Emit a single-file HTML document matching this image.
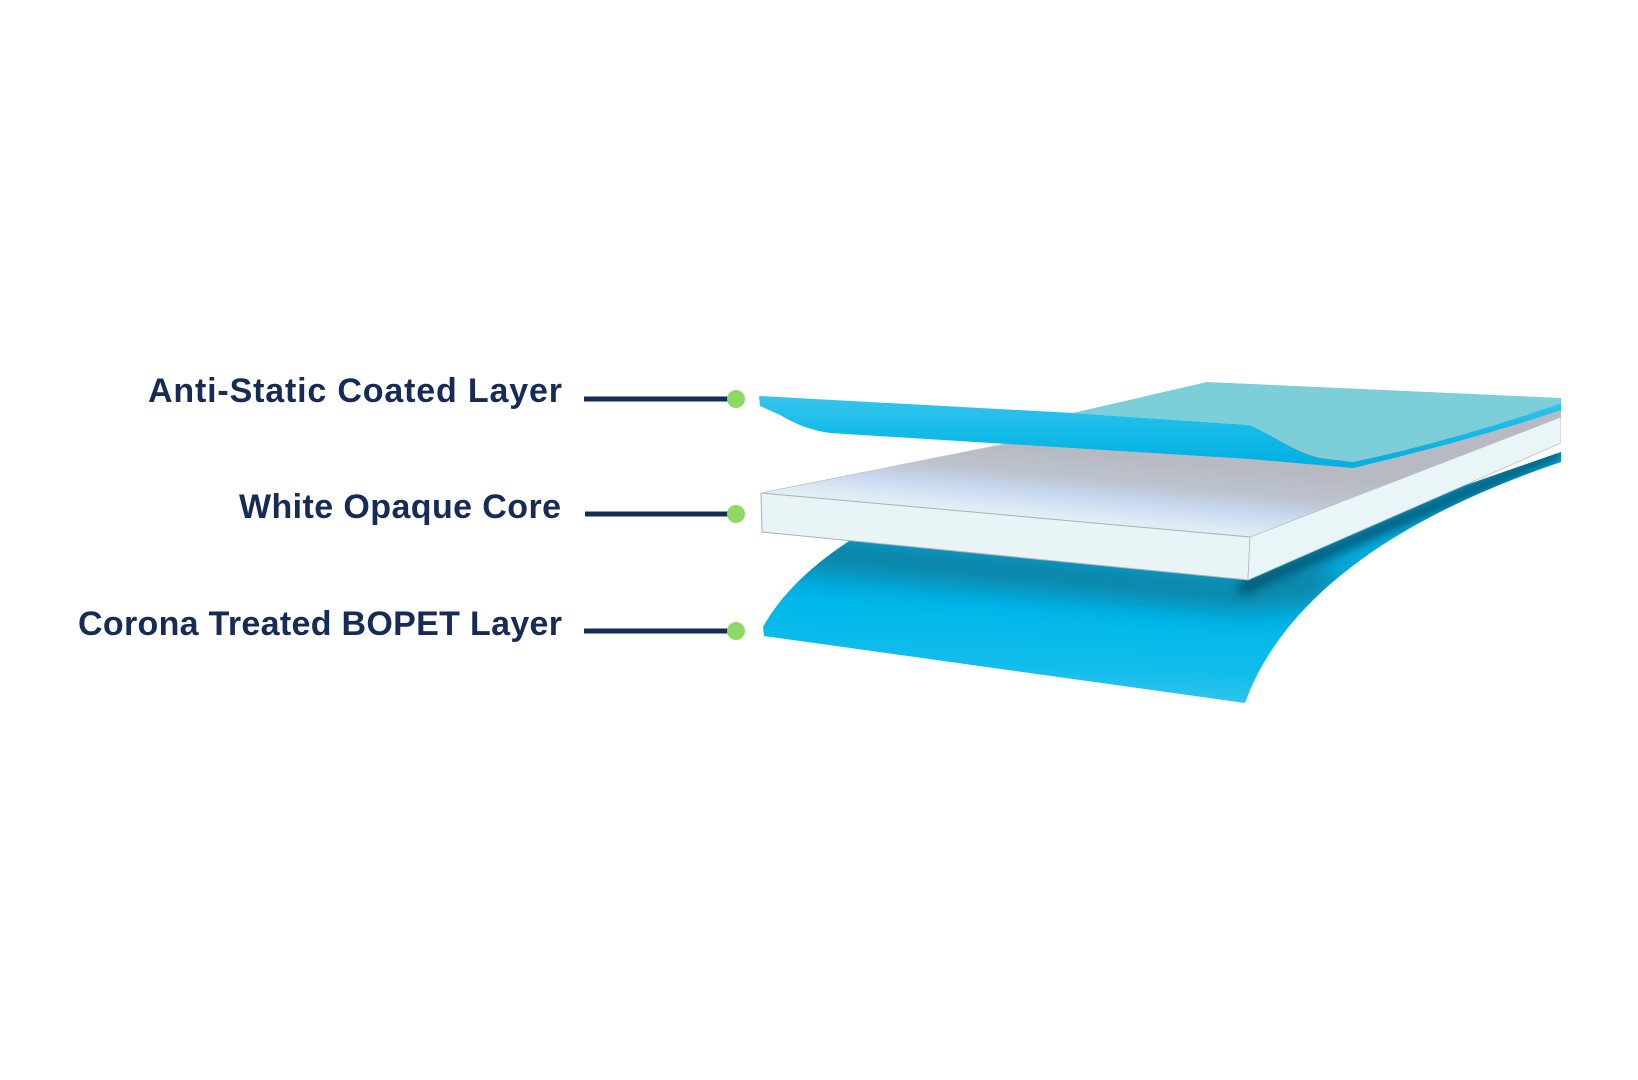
<!DOCTYPE html>
<html>
<head>
<meta charset="utf-8">
<style>
  html,body{margin:0;padding:0;background:#ffffff;}
  body{width:1638px;height:1080px;overflow:hidden;}
  svg{display:block;}
  .lbl{font-family:"Liberation Sans",Arial,sans-serif;font-weight:bold;font-size:34px;fill:#172b57;}
</style>
</head>
<body>
<svg width="1638" height="1080" viewBox="0 0 1638 1080" xmlns="http://www.w3.org/2000/svg">
  <defs>
    <clipPath id="rightclip"><rect x="0" y="0" width="1561" height="1080"/></clipPath>
    <linearGradient id="botg" gradientUnits="userSpaceOnUse" x1="1000" y1="560" x2="995" y2="700">
      <stop offset="0" stop-color="#06a9dc"/>
      <stop offset="0.35" stop-color="#00b7ea"/>
      <stop offset="0.75" stop-color="#12bdeb"/>
      <stop offset="1" stop-color="#34c5ed"/>
    </linearGradient>
    <linearGradient id="topface" gradientUnits="userSpaceOnUse" x1="1010" y1="446" x2="1003" y2="520">
      <stop offset="0" stop-color="#b7bac2"/>
      <stop offset="0.35" stop-color="#bdc3cf"/>
      <stop offset="0.6" stop-color="#c9d9f1"/>
      <stop offset="0.85" stop-color="#ddecf5"/>
      <stop offset="1" stop-color="#e4f2f5"/>
    </linearGradient>
    <linearGradient id="band" gradientUnits="userSpaceOnUse" x1="0" y1="400" x2="0" y2="460">
      <stop offset="0" stop-color="#33c4ec"/>
      <stop offset="0.5" stop-color="#16bbe8"/>
      <stop offset="1" stop-color="#02b2e3"/>
    </linearGradient>
    <filter id="blur" x="-10%" y="-50%" width="120%" height="200%">
      <feGaussianBlur stdDeviation="12"/>
    </filter>
    <filter id="blur2" x="-10%" y="-50%" width="120%" height="200%">
      <feGaussianBlur stdDeviation="5"/>
    </filter>
    <clipPath id="botclip">
      <path d="M857,536 Q790,578 763,627 L764,636 L1245,703 C1275,620 1360,530 1561,462 L1561,452 L1250,560 Z"/>
    </clipPath>
  </defs>

  <!-- Labels -->
  <text class="lbl" x="562" y="402" text-anchor="end" textLength="414" lengthAdjust="spacing">Anti-Static Coated Layer</text>
  <text class="lbl" x="561" y="518" text-anchor="end" textLength="322" lengthAdjust="spacing">White Opaque Core</text>
  <text class="lbl" x="562" y="635" text-anchor="end" textLength="484" lengthAdjust="spacing">Corona Treated BOPET Layer</text>

  <!-- Leader lines -->
  <line x1="584" y1="399" x2="734" y2="399" stroke="#172b57" stroke-width="5"/>
  <line x1="585" y1="514" x2="734" y2="514" stroke="#172b57" stroke-width="5"/>
  <line x1="584" y1="631" x2="734" y2="631" stroke="#172b57" stroke-width="5"/>
  <circle cx="736" cy="399" r="9" fill="#8ed866"/>
  <circle cx="736" cy="514" r="9" fill="#8ed866"/>
  <circle cx="736" cy="631" r="9" fill="#8ed866"/>

  <g clip-path="url(#rightclip)">
    <!-- Bottom sheet -->
    <path d="M857,536 Q790,578 763,627 L764,636 L1245,703 C1275,620 1360,530 1561,462 L1561,452 L1250,560 Z" fill="url(#botg)"/>
    <g clip-path="url(#botclip)">
      <!-- broad shadow under the slab front face -->
      <path d="M762,528 L1250,576 L1330,560 L1330,600 L1250,612 L762,568 Z" fill="#0a7f9f" opacity="0.85" filter="url(#blur)"/>
      <!-- thin dark shadow along slab side edge -->
      <path d="M1240,582 L1561,445 L1561,458 L1240,596 Z" fill="#04506a" opacity="0.85" filter="url(#blur2)"/>
    </g>

    <!-- White slab -->
    <path d="M761,493 L1005,444 L1561,405 L1561,417 L1250,537 Z" fill="url(#topface)"/>
    <path d="M761,493 L1250,537 L1248,580 L762,532 Z" fill="#e8f4f6" stroke="#a9b1b5" stroke-width="1"/>
    <path d="M1250,537 L1561,417 L1561,443 L1248,580 Z" fill="#e9f5f7" stroke="#b9c0c3" stroke-width="0.8"/>
    <path d="M761,493 L1005,444" stroke="#c3c8cc" stroke-width="1" fill="none"/>

    <!-- Top sheet: blue front band -->
    <path d="M759,396 L1073,413 L1250,425 C1275,437 1295,452 1320,458 L1353,462 C1420,448 1500,425 1561,403 L1561,410 C1500,431 1420,452 1353,468 L1250,459 L830,433 C810,430 795,424 780,415 L760,406 Z" fill="url(#band)"/>
    <!-- Teal top surface -->
    <path d="M1073,413 L1207,382 L1561,398 L1561,403 C1500,425 1420,447 1353,461 L1322,457 C1296,451 1276,437 1250,425 Z" fill="#7ccfd8"/>
  </g>
</svg>
</body>
</html>
